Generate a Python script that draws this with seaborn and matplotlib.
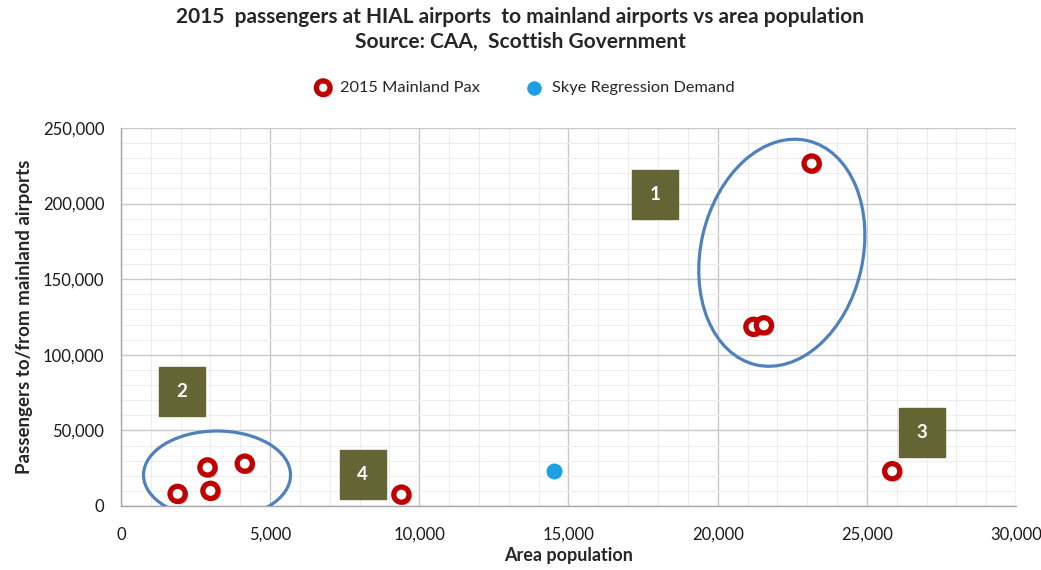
import matplotlib
matplotlib.use("Agg")
import matplotlib.pyplot as plt
import matplotlib.patheffects as pe
from matplotlib.patches import Ellipse, Rectangle
from matplotlib.transforms import ScaledTranslation
from matplotlib.ticker import MultipleLocator, FuncFormatter
import pandas as pd
import seaborn as sns

# data
pop_mainland = [1900, 2900, 3000, 4150, 9400, 21200, 21550, 23150, 25850]
pax_mainland = [8000, 25500, 10000, 28000, 7500, 118500, 119500, 226500, 23000]
pop_skye = [14500]
pax_skye = [23000]

# numbered labels and the two highlight ellipses (centres in data units)
box_labels = ["1", "2", "3", "4"]
box_x = [17900, 2050, 26850, 8100]
box_y = [206000, 75500, 48500, 20500]
ell_x = [22150, 3220]
ell_y = [167500, 20500]
ell_w = [1.62, 1.47]   # inches
ell_h = [2.30, 0.88]
ell_ang = [-13, 0]

sns.set_style("white")
plt.rcParams['font.family'] = ['Lato', 'DejaVu Sans']

mainland = pd.DataFrame({'pop': pop_mainland, 'pax': pax_mainland})
skye = pd.DataFrame({'pop': pop_skye, 'pax': pax_skye})

fig = plt.figure(figsize=(10.41, 5.70), dpi=100)
ax = fig.add_axes([0.1162, 0.1123, 0.8598, 0.6631])

shadow = [pe.SimplePatchShadow(offset=(2, -2), shadow_rgbFace='gray', alpha=0.5), pe.Normal()]
sns.scatterplot(data=mainland, x='pop', y='pax', ax=ax, s=120, marker='o',
                facecolor='white', edgecolor='#C00000', linewidth=3.8,
                label='2015 Mainland Pax', zorder=5)
sns.scatterplot(data=skye, x='pop', y='pax', ax=ax, s=120, marker='o',
                color='#1BA1E2', edgecolor='#1BA1E2', linewidth=0.5,
                label='Skye Regression Demand', zorder=5)
ax.collections[0].set_path_effects(shadow)

ax.set_xlim(0, 30000)
ax.set_ylim(0, 250000)
ax.xaxis.set_major_locator(MultipleLocator(5000))
ax.xaxis.set_minor_locator(MultipleLocator(1000))
ax.yaxis.set_major_locator(MultipleLocator(50000))
ax.yaxis.set_minor_locator(MultipleLocator(10000))
fmt = FuncFormatter(lambda v, p: f"{int(v):,}")
ax.xaxis.set_major_formatter(fmt)
ax.yaxis.set_major_formatter(fmt)
ax.grid(which='major', color='#C8C8C8', linewidth=1.0)
ax.grid(which='minor', color='#EDEDED', linewidth=0.8)
ax.set_axisbelow(True)
for side in ['top', 'right']:
    ax.spines[side].set_visible(False)
for side in ['left', 'bottom']:
    ax.spines[side].set_color('#A6A6A6')
    ax.spines[side].set_linewidth(1.0)
ax.tick_params(axis='both', which='both', length=0, labelsize=12, colors='#1a1a1a')
ax.tick_params(axis='x', pad=15)
ax.tick_params(axis='y', pad=12)

ax.set_xlabel('Area population', fontsize=13, fontweight='bold', labelpad=3)
ax.set_ylabel('Passengers to/from mainland airports', fontsize=13.5, fontweight='bold', labelpad=7)

# ellipses and numbered boxes sized in inches, placed in data units
def at(x, y):
    return fig.dpi_scale_trans + ScaledTranslation(x, y, ax.transData)

for x, y, w, h, a in zip(ell_x, ell_y, ell_w, ell_h, ell_ang):
    ax.add_patch(Ellipse((0, 0), w, h, angle=a, fill=False, edgecolor='#4F81BD',
                         linewidth=2.3, transform=at(x, y), zorder=4))

for lab, x, y in zip(box_labels, box_x, box_y):
    ax.add_patch(Rectangle((-0.23, -0.245), 0.46, 0.49, facecolor='#646434',
                           edgecolor='#646434', transform=at(x, y), zorder=6))
    ax.text(x, y, lab, color='white', fontsize=13.5, fontweight='bold',
            ha='center', va='center', zorder=7)

ax.get_legend().remove()
h, l = ax.get_legend_handles_labels()
fig.legend(h, l, loc='center', bbox_to_anchor=(0.5, 0.846), ncol=2, frameon=False,
           fontsize=11.8, handletextpad=0.05, columnspacing=2.3, markerscale=0.9)

fig.text(0.5, 0.948, "2015  passengers at HIAL airports  to mainland airports vs area population\n"
         "Source: CAA,  Scottish Government", ha='center', va='center',
         fontsize=15, fontweight='bold', linespacing=1.32)

fig.savefig('out.png', dpi=100)
